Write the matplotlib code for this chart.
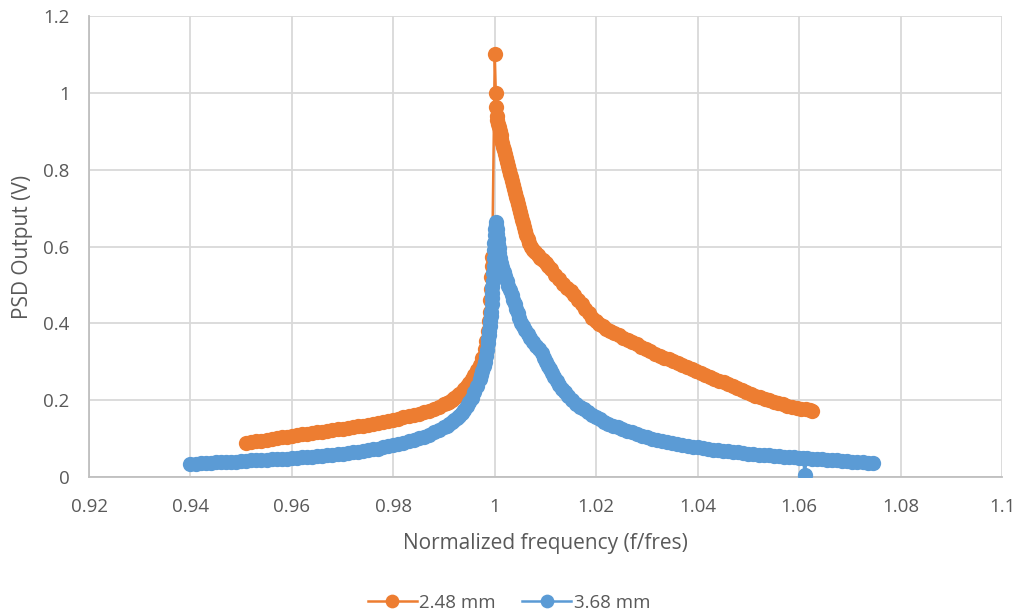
import matplotlib
matplotlib.use("Agg")
import matplotlib.pyplot as plt

# ---- data ----
x_248 = [0.951, 0.952, 0.953, 0.954, 0.955, 0.956, 0.957, 0.958, 0.959, 0.960,
         0.961, 0.962, 0.963, 0.964, 0.965, 0.966, 0.967, 0.968, 0.969, 0.970,
         0.971, 0.972, 0.973, 0.974, 0.975, 0.976, 0.977, 0.978, 0.979, 0.980,
         0.981, 0.982, 0.983, 0.984, 0.985, 0.986, 0.987, 0.988, 0.989, 0.990,
         0.9905, 0.991, 0.9915, 0.992, 0.9925, 0.993, 0.9935, 0.994, 0.9945, 0.995,
         0.9955, 0.996, 0.9965, 0.997, 0.9975, 0.998, 0.9983, 0.9986, 0.9988, 0.999,
         0.9991, 0.9992, 0.9993, 0.9994, 0.9995,
         1.0000, 1.0002, 1.0003, 1.0004, 1.0005, 1.0007, 1.0008, 1.0010, 1.0012, 1.0013,
         1.0015, 1.0017, 1.0018, 1.0020, 1.0022, 1.0024, 1.0026, 1.0028, 1.0030, 1.0032,
         1.0034, 1.0036, 1.0038, 1.0040, 1.0042, 1.0044, 1.0046, 1.0048, 1.0050, 1.0052,
         1.0054, 1.0056, 1.0058, 1.0060, 1.0062, 1.0065, 1.0068, 1.0072, 1.0076, 1.0080,
         1.0085, 1.0090, 1.0095, 1.0100, 1.0105, 1.0111, 1.0119, 1.0127, 1.0135, 1.0143,
         1.0150, 1.0157,
         1.0164, 1.0171, 1.0178, 1.0185, 1.0192, 1.0199, 1.0206, 1.0213, 1.0220, 1.0228,
         1.0236, 1.0244, 1.0253, 1.0262, 1.0271, 1.0280, 1.0289, 1.0298, 1.0307, 1.0316,
         1.0325, 1.0334, 1.0343, 1.0352, 1.0361, 1.0370, 1.0379, 1.0388, 1.0397, 1.0406,
         1.0415, 1.0424, 1.0433, 1.0442, 1.0451, 1.0460, 1.0469, 1.0478, 1.0487, 1.0496,
         1.0505, 1.0514, 1.0523, 1.0532, 1.0541, 1.0550, 1.0559, 1.0568, 1.0577, 1.0586,
         1.0595, 1.0604, 1.0613, 1.0622, 1.0626]
y_248 = [0.088, 0.091, 0.093, 0.095, 0.097, 0.099, 0.101, 0.103, 0.105, 0.107,
         0.109, 0.111, 0.112, 0.114, 0.116, 0.118, 0.120, 0.122, 0.124, 0.126,
         0.128, 0.130, 0.132, 0.134, 0.136, 0.138, 0.140, 0.143, 0.146, 0.149,
         0.152, 0.155, 0.158, 0.162, 0.165, 0.169, 0.173, 0.178, 0.183, 0.189,
         0.192, 0.196, 0.200, 0.205, 0.210, 0.215, 0.221, 0.228, 0.236, 0.244,
         0.254, 0.265, 0.278, 0.292, 0.310, 0.333, 0.355, 0.380, 0.405, 0.430,
         0.460, 0.490, 0.520, 0.550, 0.573,
         1.100, 1.000, 0.963, 0.940, 0.930, 0.920, 0.910, 0.900, 0.890, 0.880,
         0.870, 0.860, 0.850, 0.840, 0.830, 0.820, 0.810, 0.800, 0.790, 0.780,
         0.770, 0.760, 0.750, 0.740, 0.730, 0.720, 0.710, 0.700, 0.690, 0.680,
         0.670, 0.660, 0.650, 0.640, 0.630, 0.620, 0.610, 0.600, 0.592, 0.585,
         0.578, 0.571, 0.564, 0.557, 0.550, 0.541, 0.527, 0.515, 0.503, 0.492,
         0.483, 0.473,
         0.462, 0.450, 0.438, 0.426, 0.415, 0.406, 0.399, 0.392, 0.386, 0.380,
         0.375, 0.370, 0.363, 0.357, 0.351, 0.345, 0.339, 0.333, 0.327, 0.321,
         0.316, 0.311, 0.306, 0.301, 0.296, 0.291, 0.286, 0.281, 0.276, 0.271,
         0.266, 0.261, 0.256, 0.251, 0.246, 0.241, 0.236, 0.231, 0.226, 0.221,
         0.216, 0.212, 0.208, 0.204, 0.200, 0.196, 0.192, 0.189, 0.186, 0.183,
         0.180, 0.178, 0.176, 0.174, 0.172]

x_368 = [0.940, 0.941, 0.942, 0.943, 0.944, 0.945, 0.946, 0.947, 0.948, 0.949,
         0.950, 0.951, 0.952, 0.953, 0.954, 0.955, 0.956, 0.957, 0.958, 0.959,
         0.960, 0.961, 0.962, 0.963, 0.964, 0.965, 0.966, 0.967, 0.968, 0.969,
         0.970, 0.971, 0.972, 0.973, 0.974, 0.975, 0.976, 0.977, 0.978, 0.979,
         0.980, 0.981, 0.982, 0.983, 0.984, 0.985, 0.986, 0.987, 0.988, 0.989,
         0.990, 0.9905, 0.991, 0.9915, 0.992, 0.9925, 0.993, 0.9935, 0.994, 0.9945,
         0.995, 0.9955, 0.996, 0.9965, 0.997, 0.9973, 0.9975, 0.9978, 0.998, 0.9982,
         0.9984, 0.9986, 0.9987, 0.9988, 0.9989, 0.9990, 0.9991, 0.9992, 0.9993, 0.9994,
         0.99945, 0.9995, 0.99955, 0.9996, 0.9997, 0.99975, 0.9998, 0.99985, 0.9999, 0.99995,
         1.0000, 1.0002, 1.0003, 1.0004, 1.0005, 1.0006, 1.0007, 1.0008, 1.0009, 1.0010,
         1.0012, 1.0015, 1.0018, 1.0021, 1.0024, 1.0027, 1.0030, 1.0033, 1.0036, 1.0039,
         1.0042, 1.0045, 1.0048, 1.0051, 1.0055, 1.0060, 1.0065, 1.0070, 1.0076, 1.0082,
         1.0088, 1.0093, 1.0097, 1.0101, 1.0105, 1.0109, 1.0113, 1.0117, 1.0122, 1.0127,
         1.0132, 1.0138, 1.0145, 1.0152,
         1.0161, 1.0168, 1.0175, 1.0183, 1.0191, 1.0199, 1.0207, 1.0215, 1.0224, 1.0233,
         1.0242, 1.0251, 1.0260, 1.0270, 1.0280, 1.0290, 1.0300, 1.0310, 1.0320, 1.0330,
         1.0340, 1.0350, 1.0360, 1.0370, 1.0380, 1.0390, 1.0400, 1.0410, 1.0420, 1.0430,
         1.0440, 1.0450, 1.0460, 1.0470, 1.0480, 1.0490, 1.0500, 1.0510, 1.0520, 1.0530,
         1.0540, 1.0550, 1.0560, 1.0570, 1.0580, 1.0590, 1.0600, 1.0608, 1.0611, 1.0615,
         1.0625, 1.0635, 1.0645, 1.0655, 1.0665, 1.0675, 1.0685, 1.0695, 1.0705, 1.0715,
         1.0725, 1.0735, 1.0745]
y_368 = [0.035, 0.035, 0.036, 0.036, 0.037, 0.038, 0.038, 0.039, 0.040, 0.040,
         0.041, 0.042, 0.043, 0.043, 0.044, 0.045, 0.046, 0.046, 0.047, 0.048,
         0.049, 0.050, 0.051, 0.052, 0.053, 0.054, 0.055, 0.057, 0.058, 0.059,
         0.061, 0.063, 0.064, 0.066, 0.068, 0.070, 0.072, 0.074, 0.077, 0.080,
         0.083, 0.086, 0.089, 0.093, 0.097, 0.101, 0.105, 0.110, 0.116, 0.122,
         0.129, 0.133, 0.137, 0.142, 0.148, 0.154, 0.160, 0.167, 0.175, 0.184,
         0.194, 0.206, 0.220, 0.236, 0.255, 0.265, 0.276, 0.290, 0.300, 0.315,
         0.330, 0.350, 0.360, 0.370, 0.380, 0.393, 0.405, 0.418, 0.430, 0.450,
         0.465, 0.480, 0.495, 0.510, 0.530, 0.550, 0.570, 0.590, 0.610, 0.630,
         0.645, 0.665, 0.655, 0.645, 0.632, 0.620, 0.607, 0.595, 0.582, 0.570,
         0.558, 0.546, 0.534, 0.522, 0.510, 0.498, 0.486, 0.474, 0.462, 0.450,
         0.438, 0.426, 0.414, 0.402, 0.392, 0.382, 0.372, 0.362, 0.352, 0.342,
         0.332, 0.322, 0.311, 0.300, 0.290, 0.280, 0.270, 0.260, 0.250, 0.240,
         0.230, 0.220, 0.210, 0.201,
         0.190, 0.183, 0.176, 0.169, 0.162, 0.156, 0.150, 0.144, 0.139, 0.134,
         0.129, 0.124, 0.120, 0.116, 0.112, 0.108, 0.104, 0.100, 0.097, 0.094,
         0.091, 0.088, 0.086, 0.083, 0.081, 0.079, 0.077, 0.075, 0.073, 0.071,
         0.070, 0.068, 0.067, 0.065, 0.064, 0.062, 0.061, 0.060, 0.058, 0.057,
         0.056, 0.055, 0.054, 0.053, 0.052, 0.051, 0.050, 0.049, 0.005, 0.049,
         0.048, 0.047, 0.046, 0.045, 0.044, 0.043, 0.042, 0.041, 0.040, 0.039,
         0.038, 0.037, 0.037]

labels = ["2.48 mm", "3.68 mm"]
colors = ["#ED7D31", "#5B9BD5"]
x_ticks = [0.92, 0.94, 0.96, 0.98, 1.0, 1.02, 1.04, 1.06, 1.08, 1.1]
x_ticklabels = ["0.92", "0.94", "0.96", "0.98", "1", "1.02", "1.04", "1.06", "1.08", "1.1"]
y_ticks = [0, 0.2, 0.4, 0.6, 0.8, 1.0, 1.2]
y_ticklabels = ["0", "0.2", "0.4", "0.6", "0.8", "1", "1.2"]

plt.rcParams['font.family'] = ['Open Sans', 'DejaVu Sans']
text_color = "#595959"

fig = plt.figure(figsize=(10.18, 6.16), dpi=100)
ax = fig.add_axes([89/1018, 1-477/616, (1002-89)/1018, (477-16)/616])

for xs, ys, lab, c in [(x_248, y_248, labels[0], colors[0]),
                       (x_368, y_368, labels[1], colors[1])]:
    ax.plot(xs, ys, '-o', color=c, lw=1.8, markersize=11,
            markeredgewidth=0, label=lab, zorder=3)

ax.set_xlim(0.92, 1.1)
ax.set_ylim(0, 1.2)
ax.set_xticks(x_ticks)
ax.set_xticklabels(x_ticklabels)
ax.set_yticks(y_ticks)
ax.set_yticklabels(y_ticklabels)
ax.grid(True, color="#D9D9D9", lw=1.3, zorder=0)
ax.set_axisbelow(True)
for s in ["top", "right"]:
    ax.spines[s].set_visible(False)
for s in ["left", "bottom"]:
    ax.spines[s].set_color("#BFBFBF")
    ax.spines[s].set_linewidth(1.3)
ax.tick_params(length=0, labelsize=13.5, labelcolor=text_color)
ax.tick_params(axis='x', pad=15)
ax.tick_params(axis='y', pad=14)

ax.set_xlabel("Normalized frequency (f/fres)", fontsize=15, color=text_color, labelpad=12)
ax.set_ylabel("PSD Output (V)", fontsize=15, color=text_color, labelpad=7)

fig.legend(loc='center', bbox_to_anchor=(0.5, 1-603/616), ncol=2, frameon=False,
           fontsize=13.5, labelcolor=text_color, handlelength=2.6, handletextpad=0.15,
           columnspacing=1.4, markerscale=0.9)

fig.savefig("out.png", dpi=100)
